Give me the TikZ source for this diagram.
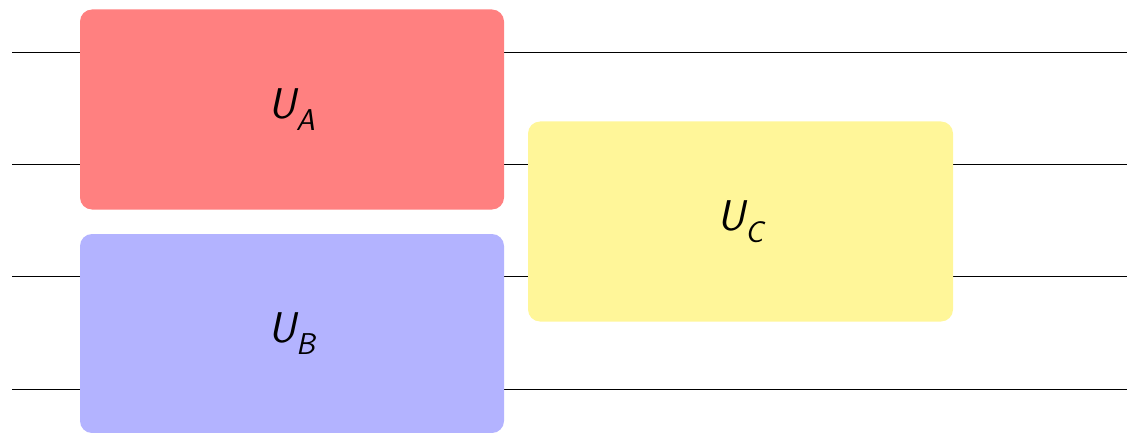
\documentclass[tikz,border=0pt]{standalone}
\usepackage{amsmath}
\definecolor{gatered}{RGB}{255,128,128}
\definecolor{gateblue}{RGB}{179,179,255}
\definecolor{gateyellow}{RGB}{255,246,153}
\newcommand{\gatelabel}[2]{$\textsf{\itshape #1}_{\textsf{\itshape #2}}$}
\begin{document}
\begin{tikzpicture}[x=1pt,y=-1pt,
  wire/.style={line width=0.9pt,black},
  gatebox/.style={rectangle,rounded corners=12pt,draw=none,inner sep=0pt,
    minimum width=424pt,minimum height=200pt,
    font=\fontsize{43}{50}\selectfont}]
\useasboundingbox (0,0) rectangle (1127,433);
% wires
\foreach \y/\n in {52/1,164/2,276/3,389/4}{
  \coordinate (w\n s) at (12,\y);
  \coordinate (w\n e) at (1127,\y);
  \draw[wire] (w\n s) -- (w\n e);
}
% gates
\node[gatebox,fill=gatered] (ua) at (292,109.5) {\gatelabel{U}{A}};
\node[gatebox,fill=gateblue,minimum height=199pt] (ub) at (292,333.5) {\gatelabel{U}{B}};
\node[gatebox,fill=gateyellow,minimum width=425pt] (uc) at (740.5,221.5) {\gatelabel{U}{C}};
\end{tikzpicture}
\end{document}
